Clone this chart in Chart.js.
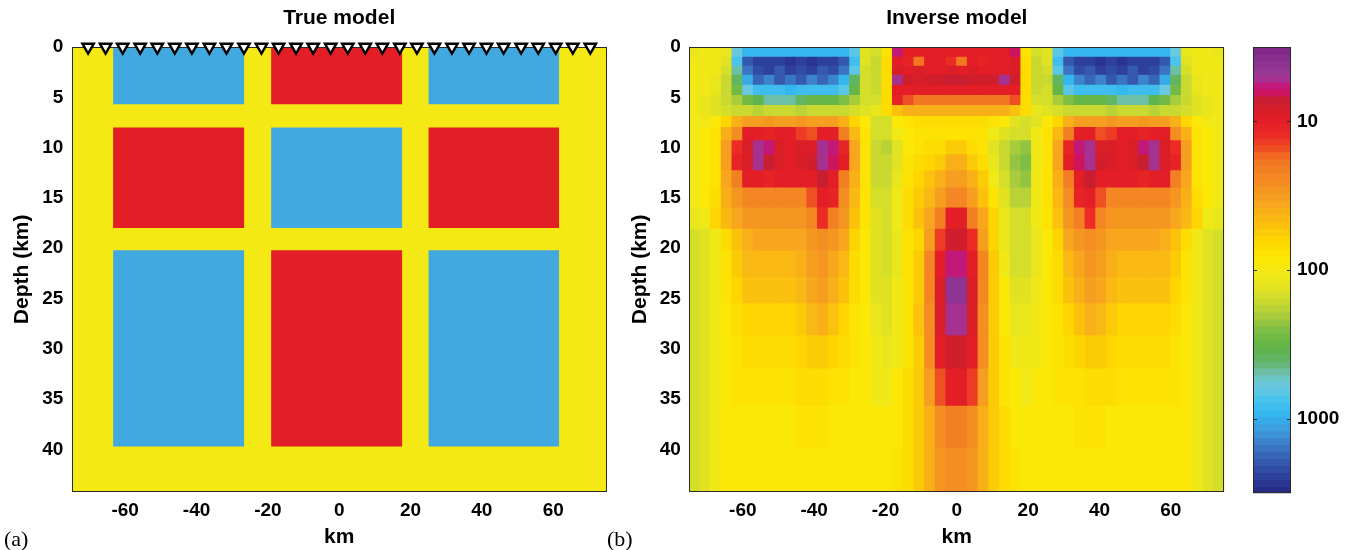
<!DOCTYPE html>
<html><head><meta charset="utf-8">
<script src="https://cdn.jsdelivr.net/npm/chart.js@4.4.1/dist/chart.umd.min.js"></script>
<style>
html,body{margin:0;padding:0;background:#fff;}
#wrap{position:relative;width:1356px;height:550px;overflow:hidden;background:#fff;}
.pane{position:absolute;top:0;height:550px;}
.tag{position:absolute;font-family:'Liberation Serif','Times New Roman',serif;font-size:22px;line-height:26px;color:#000;}
</style></head><body>
<div id="wrap">
<div class="pane" style="left:0;width:640px"><canvas id="ca" width="640" height="550"></canvas></div>
<div class="pane" style="left:620px;width:620px"><canvas id="cb" width="620" height="550"></canvas></div>
<div class="pane" style="left:1240px;width:116px"><canvas id="cc" width="116" height="550"></canvas></div>
<div class="tag" style="left:4px;top:526px">(a)</div>
<div class="tag" style="left:607px;top:526px">(b)</div>
</div>
<script>
// ---------------- data ----------------
const xTicks = [-60, -40, -20, 0, 20, 40, 60];
const depthTicks = [0, 5, 10, 15, 20, 25, 30, 35, 40];
const xMin = -75, xMax = 75;
const depthMin = 0, depthMax = 44.2;
const colorbarTicks = [10, 100, 1000];

// receiver stations (km)
const stations = [-70.4, -65.5, -60.7, -55.8, -51.0, -46.1, -41.3, -36.4, -31.6, -26.7,
  -21.8, -17.0, -12.1, -7.3, -2.4, 2.4, 7.3, 12.1, 17.0, 21.8,
  26.7, 31.6, 36.4, 41.3, 46.1, 51.0, 55.8, 60.7, 65.5, 70.4];

// true model: background and blocks (resistivity, ohm-m)
const trueBackgroundRho = 100;
const trueBlockLeft   = [-63.4, -19.1, 25.0, -63.4, -19.1, 25.0, -63.4, -19.1, 25.0];
const trueBlockRight  = [-26.6, 17.7, 61.7, -26.6, 17.7, 61.7, -26.6, 17.7, 61.7];
const trueBlockTop    = [0, 0, 0, 8.0, 8.0, 8.0, 20.2, 20.2, 20.2];
const trueBlockBottom = [5.7, 5.7, 5.7, 18.0, 18.0, 18.0, 39.7, 39.7, 39.7];
const trueBlockRho    = [1000, 10, 1000, 10, 1000, 10, 1000, 10, 1000];

// inverse model grid
const invColumns = [-73.5,-70.5,-67.5,-64.5,-61.5,-58.5,-55.5,-52.5,-49.5,-46.5,
  -43.5,-40.5,-37.5,-34.5,-31.5,-28.5,-25.5,-22.5,-19.5,-16.5,
  -13.5,-10.5,-7.5,-4.5,-1.5,1.5,4.5,7.5,10.5,13.5,
  16.5,19.5,22.5,25.5,28.5,31.5,34.5,37.5,40.5,43.5,
  46.5,49.5,52.5,55.5,58.5,61.5,64.5,67.5,70.5,73.5];
const invLayerTop    = [0, 0.9, 1.8, 2.7, 3.7, 4.7, 5.7, 6.8, 7.9, 9.2, 10.6, 12.2, 13.9, 15.9, 18.0, 20.2, 22.8, 25.4, 28.6, 31.9, 35.6, 39.8];
const invLayerBottom = [0.9, 1.8, 2.7, 3.7, 4.7, 5.7, 6.8, 7.9, 9.2, 10.6, 12.2, 13.9, 15.9, 18.0, 20.2, 22.8, 25.4, 28.6, 31.9, 35.6, 39.8, 44.2];

// inverse model, log10 resistivity per layer (50 columns each)
const logRhoL00 = [2.05,2.0,2.0,2.05,2.75,2.95,2.95,2.95,2.95,2.95, 2.95,2.95,2.95,2.95,2.95,2.8,2.1,2.15,1.9,0.75, 1.0,1.0,1.0,1.0,1.0,1.0,1.0,1.0,1.0,1.0, 0.8,1.9,2.15,2.1,2.8,2.95,2.95,2.95,2.95,2.95, 2.95,2.95,2.95,2.95,2.95,2.75,2.05,2.0,2.0,2.05];
const logRhoL01 = [2.0,2.0,2.0,2.1,2.85,3.3,3.4,3.4,3.4,3.42, 3.4,3.42,3.4,3.38,3.3,2.9,2.1,2.2,1.85,1.0, 1.05,1.25,1.0,1.0,1.1,1.25,1.0,1.05,1.0,1.0, 0.95,1.85,2.2,2.1,2.9,3.3,3.38,3.4,3.42,3.4, 3.42,3.4,3.4,3.4,3.3,2.85,2.1,2.0,2.0,2.0];
const logRhoL02 = [2.0,2.0,2.0,2.15,2.7,3.2,3.35,3.38,3.3,3.38, 3.35,3.38,3.3,3.35,3.2,2.8,2.15,2.2,1.85,0.95, 1.0,0.95,1.0,1.0,0.95,1.0,0.95,1.0,1.0,0.98, 0.95,1.85,2.2,2.15,2.8,3.2,3.35,3.3,3.38,3.35, 3.38,3.3,3.38,3.35,3.2,2.7,2.15,2.0,2.0,2.0];
const logRhoL03 = [2.0,2.0,2.05,2.2,2.6,3.0,3.25,3.15,3.3,3.2, 3.3,3.15,3.25,3.15,2.95,2.6,2.15,2.2,1.85,0.72, 0.9,0.95,0.92,0.88,0.85,0.85,0.88,0.9,0.92,0.7, 0.92,1.85,2.2,2.2,2.6,2.95,3.15,3.25,3.15,3.3, 3.2,3.3,3.15,3.25,3.0,2.6,2.2,2.05,2.0,2.0];
const logRhoL04 = [2.0,2.0,2.05,2.2,2.45,2.75,2.9,2.92,2.9,2.95, 2.9,2.92,2.9,2.9,2.8,2.5,2.15,2.2,1.85,1.0, 1.0,1.0,1.0,1.0,1.0,1.0,1.0,1.0,1.0,1.0, 1.0,1.85,2.2,2.15,2.5,2.8,2.9,2.9,2.92,2.9, 2.95,2.9,2.92,2.9,2.75,2.45,2.2,2.05,2.0,2.0];
const logRhoL05 = [2.0,2.05,2.1,2.2,2.3,2.45,2.55,2.68,2.68,2.68, 2.6,2.5,2.5,2.5,2.4,2.3,2.15,2.15,1.85,1.05, 1.2,1.28,1.28,1.28,1.28,1.28,1.28,1.28,1.28,1.28, 1.2,1.85,2.15,2.15,2.3,2.4,2.5,2.5,2.5,2.6, 2.68,2.68,2.68,2.55,2.45,2.3,2.2,2.1,2.05,2.0];
const logRhoL06 = [2.0,2.05,2.1,2.15,2.2,2.22,2.25,2.22,2.2,2.22, 2.25,2.22,2.2,2.22,2.2,2.15,2.1,2.05,1.85,1.7, 1.6,1.6,1.6,1.6,1.6,1.6,1.6,1.6,1.6,1.62, 1.7,1.85,2.05,2.1,2.15,2.2,2.22,2.2,2.22,2.25, 2.22,2.2,2.22,2.25,2.22,2.2,2.15,2.1,2.05,2.0];
const logRhoL07 = [2.0,2.0,1.95,1.8,1.6,1.5,1.5,1.48,1.5,1.5, 1.48,1.5,1.5,1.5,1.6,1.8,1.95,2.15,2.15,1.95, 1.88,1.85,1.85,1.85,1.85,1.85,1.85,1.85,1.88,1.95, 2.1,2.15,2.1,1.95,1.8,1.6,1.5,1.5,1.5,1.48, 1.5,1.5,1.48,1.5,1.5,1.6,1.8,1.95,2.0,2.0];
const logRhoL08 = [2.0,1.95,1.9,1.6,1.4,1.0,1.0,1.02,1.0,1.0, 1.15,1.2,1.0,1.0,1.3,1.65,1.9,2.15,2.15,2.0, 1.92,1.9,1.9,1.88,1.88,1.88,1.88,1.9,2.0,2.1, 2.15,2.15,2.0,1.9,1.65,1.3,1.0,1.0,1.2,1.15, 1.0,1.0,1.02,1.0,1.0,1.4,1.6,1.9,1.95,2.0];
const logRhoL09 = [2.0,1.95,1.9,1.5,1.1,0.95,0.72,0.75,0.95,1.0, 0.95,0.95,0.7,0.75,1.05,1.55,1.9,2.2,2.25,2.1, 1.95,1.9,1.85,1.85,1.75,1.75,1.85,1.9,2.1,2.2, 2.3,2.35,2.0,1.9,1.55,1.05,0.75,0.7,0.95,0.95, 1.0,0.95,0.75,0.72,0.95,1.1,1.5,1.9,1.95,2.0];
const logRhoL10 = [2.0,1.95,1.9,1.5,1.05,0.95,0.72,0.85,0.95,0.98, 0.95,0.92,0.72,0.8,1.0,1.55,1.9,2.2,2.2,2.1, 1.9,1.85,1.8,1.72,1.6,1.6,1.72,1.85,2.05,2.2, 2.35,2.4,2.0,1.9,1.55,1.0,0.8,0.72,0.92,0.95, 0.98,0.95,0.85,0.72,0.95,1.05,1.5,1.9,1.95,2.0];
const logRhoL11 = [2.0,1.95,1.9,1.55,1.3,1.0,1.0,1.05,1.0,1.0, 1.0,1.0,0.85,1.0,1.3,1.6,1.9,2.2,2.2,2.05, 1.9,1.8,1.7,1.6,1.5,1.5,1.6,1.75,2.0,2.15, 2.3,2.35,2.0,1.9,1.6,1.3,1.0,0.85,1.0,1.0, 1.0,1.0,1.05,1.0,1.0,1.3,1.55,1.9,1.95,2.0];
const logRhoL12 = [2.0,1.95,1.85,1.6,1.45,1.38,1.38,1.38,1.38,1.38, 1.38,1.2,1.0,1.05,1.4,1.65,1.9,2.15,2.15,2.0, 1.85,1.75,1.65,1.5,1.35,1.35,1.5,1.7,1.9,2.1, 2.25,2.25,2.0,1.9,1.65,1.4,1.05,1.0,1.2,1.38, 1.38,1.38,1.38,1.38,1.38,1.45,1.6,1.85,1.95,2.0];
const logRhoL13 = [2.05,2.0,1.8,1.65,1.55,1.48,1.48,1.48,1.48,1.48, 1.48,1.35,1.1,1.3,1.45,1.7,1.9,2.1,2.15,2.0, 1.85,1.7,1.55,1.3,1.0,1.0,1.3,1.55,1.8,2.05, 2.15,2.15,2.0,1.9,1.7,1.45,1.3,1.1,1.35,1.48, 1.48,1.48,1.48,1.48,1.48,1.55,1.65,1.8,2.0,2.05];
const logRhoL14 = [2.15,2.1,2.0,1.85,1.7,1.6,1.55,1.55,1.55,1.55, 1.55,1.45,1.4,1.45,1.55,1.8,1.95,2.1,2.15,2.05, 1.9,1.8,1.5,1.15,0.9,0.9,1.1,1.5,1.8,2.05, 2.15,2.15,2.05,1.95,1.8,1.55,1.45,1.4,1.45,1.55, 1.55,1.55,1.55,1.55,1.6,1.7,1.85,2.0,2.1,2.15];
const logRhoL15 = [2.15,2.1,2.0,1.9,1.75,1.65,1.65,1.65,1.65,1.65, 1.6,1.5,1.45,1.55,1.65,1.85,1.95,2.1,2.15,2.05, 1.9,1.75,1.35,1.0,0.75,0.75,1.0,1.35,1.75,2.0, 2.15,2.15,2.05,1.95,1.85,1.65,1.55,1.45,1.5,1.6, 1.65,1.65,1.65,1.65,1.65,1.75,1.9,2.0,2.1,2.15];
const logRhoL16 = [2.15,2.1,2.0,1.9,1.8,1.7,1.7,1.7,1.7,1.7, 1.65,1.55,1.5,1.6,1.7,1.85,1.95,2.1,2.1,2.0, 1.9,1.75,1.35,0.95,0.62,0.62,0.95,1.35,1.75,1.95, 2.1,2.1,2.0,1.95,1.85,1.7,1.6,1.5,1.55,1.65, 1.7,1.7,1.7,1.7,1.7,1.8,1.9,2.0,2.1,2.15];
const logRhoL17 = [2.15,2.1,2.0,1.95,1.85,1.78,1.78,1.78,1.78,1.78, 1.72,1.65,1.62,1.7,1.8,1.9,1.95,2.05,2.1,2.0, 1.9,1.7,1.4,0.95,0.72,0.72,0.95,1.4,1.75,1.95, 2.05,2.05,2.0,1.95,1.9,1.8,1.7,1.62,1.65,1.72, 1.78,1.78,1.78,1.78,1.78,1.85,1.95,2.0,2.1,2.15];
const logRhoL18 = [2.15,2.1,2.0,1.95,1.9,1.82,1.82,1.82,1.82,1.82, 1.78,1.75,1.72,1.78,1.85,1.9,1.95,2.0,2.05,2.0, 1.9,1.72,1.4,1.0,0.88,0.88,1.0,1.4,1.75,1.9, 2.0,2.0,2.0,1.95,1.9,1.85,1.78,1.72,1.75,1.78, 1.82,1.82,1.82,1.82,1.82,1.9,1.95,2.0,2.1,2.15];
const logRhoL19 = [2.15,2.1,2.0,1.95,1.9,1.9,1.9,1.9,1.9,1.9, 1.85,1.85,1.85,1.88,1.9,1.92,1.95,2.0,2.0,1.95, 1.85,1.75,1.5,1.2,1.0,1.0,1.15,1.5,1.75,1.9, 1.95,2.0,1.95,1.92,1.9,1.9,1.88,1.85,1.85,1.85, 1.9,1.9,1.9,1.9,1.9,1.9,1.95,2.0,2.1,2.15];
const logRhoL20 = [2.15,2.1,2.0,1.95,1.93,1.92,1.92,1.92,1.92,1.92, 1.9,1.9,1.9,1.92,1.93,1.95,1.95,1.95,1.95,1.92, 1.85,1.75,1.58,1.42,1.3,1.3,1.42,1.58,1.75,1.85, 1.92,1.95,1.95,1.95,1.93,1.92,1.9,1.9,1.9,1.92, 1.92,1.92,1.92,1.92,1.93,1.95,1.95,2.0,2.1,2.15];
const logRhoL21 = [2.15,2.1,2.0,1.95,1.95,1.93,1.93,1.93,1.93,1.93, 1.92,1.92,1.92,1.93,1.95,1.95,1.95,1.95,1.93,1.9, 1.85,1.72,1.6,1.45,1.4,1.4,1.45,1.6,1.72,1.85, 1.9,1.93,1.95,1.95,1.95,1.95,1.93,1.92,1.92,1.92, 1.93,1.93,1.93,1.93,1.93,1.95,1.95,2.0,2.1,2.15];
const invLayers = [logRhoL00, logRhoL01, logRhoL02, logRhoL03, logRhoL04, logRhoL05, logRhoL06, logRhoL07, logRhoL08, logRhoL09, logRhoL10,
  logRhoL11, logRhoL12, logRhoL13, logRhoL14, logRhoL15, logRhoL16, logRhoL17, logRhoL18, logRhoL19, logRhoL20, logRhoL21];

// colour scale (log10 rho -> rgb)
const cmapLog = [0.50,0.60,0.70,0.74,0.80,0.85,0.93,1.00,1.10,1.17,1.25,1.40,1.55,1.68,1.80,1.92,2.00,2.10,2.20,2.30,2.40,2.52,2.62,2.70,2.78,2.88,2.97,3.05,3.15,3.25,3.35,3.45,3.50];
const cmapRGB = [[125,35,135],[140,50,145],[155,60,150],[190,25,130],[205,20,100],[200,30,50],[215,30,40],[228,30,38],[236,45,36],[238,75,35],[242,115,35],[244,140,35],[247,165,30],[250,190,15],[254,215,0],[252,232,5],[245,234,20],[228,228,32],[205,218,45],[170,205,60],[125,190,68],[95,180,72],[100,182,110],[110,195,185],[105,200,225],[70,195,238],[50,180,238],[60,160,225],[60,130,205],[55,100,180],[48,72,162],[40,48,140],[36,40,128]];
const cbLogMin = 0.5, cbLogMax = 3.5, cbLevels = 64;
const trueColors = {10: '#E21E26', 100: '#F4E815', 1000: '#41A9DF'};

// ---------------- helpers ----------------
function interp(v) {
  if (v <= cmapLog[0]) return cmapRGB[0];
  for (let i = 1; i < cmapLog.length; i++) {
    if (v <= cmapLog[i]) {
      const t = (v - cmapLog[i-1]) / (cmapLog[i] - cmapLog[i-1]);
      return cmapRGB[i-1].map((c, j) => Math.round(c + t * (cmapRGB[i][j] - c)));
    }
  }
  return cmapRGB[cmapRGB.length - 1];
}
const cbStep = (cbLogMax - cbLogMin) / cbLevels;
const levelColors = [];
for (let k = 0; k < cbLevels; k++) {
  const c = interp(cbLogMin + (k + 0.5) * cbStep);
  levelColors.push(`rgb(${c[0]},${c[1]},${c[2]})`);
}
function cellColor(lv) {
  let k = Math.floor((lv - cbLogMin) / cbStep);
  k = Math.max(0, Math.min(cbLevels - 1, k));
  return levelColors[k];
}

Chart.defaults.font.family = "'Liberation Sans', Arial, Helvetica, sans-serif";
Chart.defaults.color = '#000';
Chart.defaults.animation = false;

const framePlugin = {
  id: 'frame',
  drawFrame(chart, opts) {
    const {ctx, chartArea: a} = chart;
    ctx.save();
    ctx.strokeStyle = opts.color || '#2a2a2a';
    ctx.lineWidth = 1;
    ctx.strokeRect(Math.round(a.left) + 0.5, Math.round(a.top) + 0.5, Math.round(a.right - a.left) - 1, Math.round(a.bottom - a.top) - 1);
    if (opts.innerTicks) {
      const s = chart.scales.y;
      ctx.beginPath();
      s.ticks.forEach(t => {
        const y = Math.round(s.getPixelForValue(t.value)) + 0.5;
        ctx.moveTo(a.left, y); ctx.lineTo(a.left + 4, y);
        ctx.moveTo(a.right - 4, y); ctx.lineTo(a.right, y);
      });
      ctx.stroke();
    }
    ctx.restore();
  },
  beforeDatasetDraw(chart, args, opts) {
    if (opts.beforeDataset === args.index) this.drawFrame(chart, opts);
  },
  afterDatasetsDraw(chart, args, opts) {
    if (opts.beforeDataset === undefined || opts.beforeDataset === null) this.drawFrame(chart, opts);
  }
};

const tickFont = {size: 19, weight: 'bold'};
const titleFont = {size: 21, weight: 'bold'};

function xAxis(extra) {
  return Object.assign({
    type: 'linear', min: xMin, max: xMax, offset: false,
    afterBuildTicks: s => { s.ticks = xTicks.map(v => ({value: v})); },
    ticks: {padding: 7.4, font: tickFont, color: '#000', callback: v => String(v), maxRotation: 0, autoSkip: false},
    grid: {display: false, drawTicks: false, offset: false},
    border: {display: false},
    title: {display: true, text: 'km', font: titleFont, color: '#000', padding: {top: 0, bottom: 0}},
    afterFit: s => { s.height = 58.3; }
  }, extra || {});
}
function yAxis(width, titlePad) {
  return {
    type: 'linear', reverse: true, min: depthMin, max: depthMax, beginAtZero: false,
    afterBuildTicks: s => { s.ticks = depthTicks.map(v => ({value: v})); },
    ticks: {padding: 8.4, font: tickFont, color: '#000', callback: v => String(v), autoSkip: false},
    grid: {display: false, drawTicks: false},
    border: {display: false},
    title: {display: true, text: 'Depth (km)', font: titleFont, color: '#000', padding: {top: titlePad, bottom: 0}},
    afterFit: s => { s.width = width; }
  };
}
function titleOpts(text) {
  return {display: true, text: text, fullSize: false, font: titleFont, color: '#000', padding: {top: 5.5, bottom: 16.3}};
}

// ---------------- panel (a): true model ----------------
const trueDatasets = [];
trueDatasets.push({
  type: 'scatter', label: 'stations', order: 0, clip: false, showLine: false,
  data: stations.map(x => ({x: x, y: 0})),
  pointStyle: 'triangle', pointRotation: 180, pointRadius: 6.6, pointHoverRadius: 6.6,
  pointBackgroundColor: '#ffffff', pointBorderColor: '#000000', pointBorderWidth: 2.4
});
trueBlockRho.forEach((rho, i) => {
  trueDatasets.push({
    type: 'line', order: 1, label: 'block' + i,
    data: [{x: trueBlockLeft[i], y: trueBlockTop[i]}, {x: trueBlockRight[i], y: trueBlockTop[i]}],
    fill: {value: trueBlockBottom[i]}, backgroundColor: trueColors[rho],
    borderWidth: 0, borderColor: 'rgba(0,0,0,0)', pointRadius: 0, tension: 0
  });
});
trueDatasets.push({
  type: 'line', order: 2, label: 'background',
  data: [{x: xMin, y: depthMin}, {x: xMax, y: depthMin}],
  fill: {value: depthMax}, backgroundColor: trueColors[trueBackgroundRho],
  borderWidth: 0, borderColor: 'rgba(0,0,0,0)', pointRadius: 0, tension: 0
});

new Chart(document.getElementById('ca'), {
  type: 'line',
  data: {datasets: trueDatasets},
  options: {
    responsive: false, events: [],
    layout: {padding: {left: 0, right: 33.3, top: 0, bottom: 0}},
    scales: {x: xAxis(), y: yAxis(71.7, 9.7)},
    plugins: {legend: {display: false}, tooltip: {enabled: false}, title: titleOpts('True model'), frame: {beforeDataset: 0}}
  },
  plugins: [framePlugin]
});

// ---------------- panel (b): inverse model ----------------
const invDatasets = invLayers.map((row, L) => ({
  type: 'bar', xAxisID: 'xc', yAxisID: 'y', label: 'layer' + L,
  data: row.map(() => [invLayerTop[L], invLayerBottom[L]]),
  backgroundColor: row.map(cellColor),
  grouped: false, barPercentage: 1, categoryPercentage: 1, borderWidth: 0, inflateAmount: 0.6
}));

new Chart(document.getElementById('cb'), {
  type: 'bar',
  data: {labels: invColumns.map(String), datasets: invDatasets},
  options: {
    responsive: false, events: [],
    layout: {padding: {left: 0, right: 15.7, top: 0, bottom: 0}},
    scales: {
      x: xAxis(),
      xc: {type: 'category', display: false, offset: true},
      y: yAxis(69.3, 7.4)
    },
    plugins: {legend: {display: false}, tooltip: {enabled: false}, title: titleOpts('Inverse model'), frame: {}}
  },
  plugins: [framePlugin]
});

// ---------------- colour bar ----------------
const cbDatasets = levelColors.map((col, k) => ({
  data: [[Math.pow(10, cbLogMin + k * cbStep), Math.pow(10, cbLogMin + (k + 1) * cbStep)]],
  backgroundColor: col, grouped: false, barPercentage: 1, categoryPercentage: 1, borderWidth: 0, inflateAmount: 0.6
}));
new Chart(document.getElementById('cc'), {
  type: 'bar',
  data: {labels: [''], datasets: cbDatasets},
  options: {
    responsive: false, events: [],
    layout: {padding: {left: 13, right: 0, top: 47, bottom: 56.7}},
    scales: {
      x: {type: 'category', display: false},
      y: {
        type: 'logarithmic', position: 'right', reverse: true,
        min: Math.pow(10, cbLogMin), max: Math.pow(10, cbLogMax),
        afterBuildTicks: s => { s.ticks = colorbarTicks.map(v => ({value: v})); },
        ticks: {padding: 6, font: tickFont, color: '#000', callback: v => String(v), autoSkip: false},
        grid: {display: false, drawTicks: false}, border: {display: false},
        afterFit: s => { s.width = 65; }
      }
    },
    plugins: {legend: {display: false}, tooltip: {enabled: false}, frame: {innerTicks: true}}
  },
  plugins: [framePlugin]
});
</script>
</body></html>
